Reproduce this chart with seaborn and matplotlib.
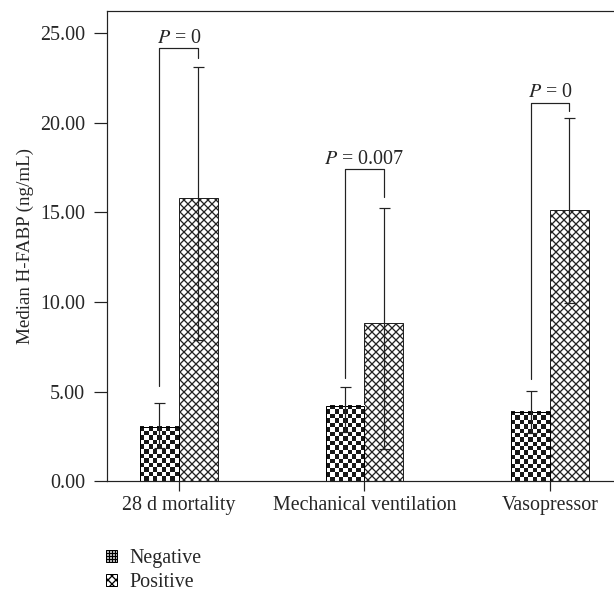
import numpy as np
import pandas as pd
import matplotlib
matplotlib.use('Agg')
import matplotlib.pyplot as plt
import seaborn as sns
from matplotlib.patches import Patch

categories = ['28 d mortality', 'Mechanical ventilation', 'Vasopressor']
groups = ['Negative', 'Positive']
neg_median = [3.03, 4.20, 3.87]
neg_low = [1.84, 2.77, 2.71]
neg_high = [4.39, 5.24, 5.06]
pos_median = [15.80, 8.85, 15.15]
pos_low = [7.88, 1.80, 9.95]
pos_high = [23.14, 15.25, 20.29]
p_labels = ['0', '0.007', '0']
bracket_top = [24.16, 17.43, 21.13]
bracket_left_end = [5.30, 5.76, 5.71]
bracket_right_end = [23.60, 15.88, 20.68]
y_ticks = [0, 5, 10, 15, 20, 25]

sns.set_style('ticks')
plt.rcParams['font.family'] = ['Liberation Serif', 'DejaVu Serif']
plt.rcParams['mathtext.fontset'] = 'stix'
plt.rcParams['hatch.linewidth'] = 1.3
FS = 20

df = pd.DataFrame({
    'category': categories * 2,
    'group': [groups[0]] * 3 + [groups[1]] * 3,
    'value': neg_median + pos_median,
})

W, H = 614, 596
fig = plt.figure(figsize=(W / 72, H / 72), dpi=72)
ax = fig.add_axes([107 / W, 1 - 481.3 / H, 1 - 107 / W, (481.3 - 11) / H])

sns.barplot(data=df, x='category', y='value', hue='group', order=categories,
            hue_order=groups, palette=['white', 'white'], saturation=1,
            width=0.42, edgecolor='black', linewidth=1.0, errorbar=None,
            legend=False, ax=ax)

ax.set_xlim(-0.388, 2.345)
ax.set_ylim(0, 26.24)

neg_bars = ax.containers[0]
pos_bars = ax.containers[1]

for bar in pos_bars:
    bar.set_hatch('xxx')
    bar.set_edgecolor('#222222')
    bar.set_zorder(2)

# checkerboard fill for negative bars
for bar in neg_bars:
    x0, y0 = bar.get_x(), bar.get_y()
    w, h = bar.get_width(), bar.get_height()
    p0 = ax.transData.transform((x0, y0))
    p1 = ax.transData.transform((x0 + w, y0 + h))
    nx = max(1, int(round((p1[0] - p0[0]) / 4.35)))
    ny = max(1, int(round((p1[1] - p0[1]) / 4.35)))
    checker = np.add.outer(np.arange(ny), np.arange(nx)) % 2
    ax.imshow(checker, cmap='gray_r', vmin=0, vmax=1.1, extent=(x0, x0 + w, y0, y0 + h),
              aspect='auto', interpolation='nearest', origin='lower', zorder=2)
    bar.set_facecolor('none')
    bar.set_zorder(3)

ax.set_xlim(-0.388, 2.345)
ax.set_ylim(0, 26.24)

def centers(bars):
    return [b.get_x() + b.get_width() / 2 for b in bars]

nx_c = centers(neg_bars)
px_c = centers(pos_bars)

ax.errorbar(nx_c, neg_median,
            yerr=[np.array(neg_median) - np.array(neg_low), np.array(neg_high) - np.array(neg_median)],
            fmt='none', ecolor='#222222', elinewidth=1.2, capsize=5.5, capthick=1.2, zorder=5)
ax.errorbar(px_c, pos_median,
            yerr=[np.array(pos_median) - np.array(pos_low), np.array(pos_high) - np.array(pos_median)],
            fmt='none', ecolor='#222222', elinewidth=1.2, capsize=5.5, capthick=1.2, zorder=5)

for i in range(len(categories)):
    xl, xr = nx_c[i], px_c[i]
    ax.plot([xl, xl, xr, xr],
            [bracket_left_end[i], bracket_top[i], bracket_top[i], bracket_right_end[i]],
            color='#222222', lw=1.2, zorder=5)
    ax.text((xl + xr) / 2, bracket_top[i] + 0.3, '$P$ = ' + p_labels[i],
            ha='center', va='baseline', fontsize=20)

ax.set_yticks(y_ticks)
ax.set_yticklabels([f'{v:.2f}' for v in y_ticks], fontsize=FS)
ax.set_xticks(range(len(categories)))
ax.set_xticklabels(categories, fontsize=FS)
ax.set_xlabel('')
ax.set_ylabel('Median H-FABP (ng/mL)', fontsize=19, labelpad=6)
ax.tick_params(axis='y', length=13, width=1.2, color='#222222', pad=9)
ax.tick_params(axis='x', length=10, width=1.2, color='#222222', pad=5)

for s in ['left', 'bottom', 'top']:
    ax.spines[s].set_visible(True)
    ax.spines[s].set_linewidth(1.2)
    ax.spines[s].set_color('#222222')
ax.spines['right'].set_visible(False)

handles = [Patch(facecolor='white', edgecolor='black', hatch='++++', label='Negative'),
           Patch(facecolor='white', edgecolor='black', hatch='xxx', label='Positive')]
fig.legend(handles=handles, loc='upper left', bbox_to_anchor=(98 / W, 1 - 541 / H),
           frameon=False, fontsize=FS, handlelength=0.55, handleheight=0.55,
           handletextpad=0.6, labelspacing=0.25, borderaxespad=0)

fig.savefig('out.png', dpi=72)
